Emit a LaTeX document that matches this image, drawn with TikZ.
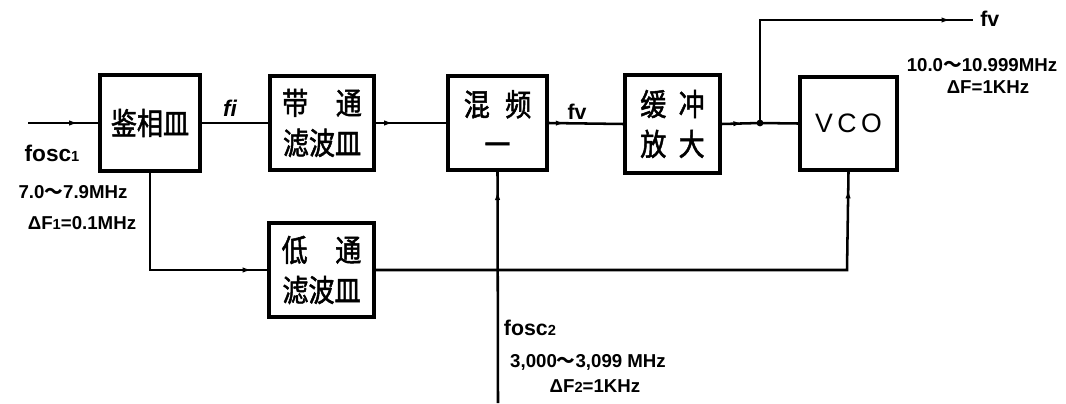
\documentclass[tikz,border=0pt]{standalone}
\usepackage{fontspec}
\setmainfont{Liberation Sans}
\newfontfamily\cjk[FakeBold=1.6,FakeStretch=0.85]{Noto Sans CJK SC}
\newfontfamily\cjkw{Noto Sans CJK SC}
\usetikzlibrary{decorations.markings,arrows.meta}
\newcommand{\smd}[1]{{\fontsize{11}{11}\selectfont #1}}
\newcommand{\wave}{{\cjkw ～}}
\begin{document}
\begin{tikzpicture}[x=0.75pt,y=-0.75pt,
  blk/.style={draw,line width=2.8pt,inner sep=0pt,align=center,
    font=\cjk\fontsize{23}{30}\selectfont},
  wire/.style={line width=1.9pt},
  midarrow/.style={postaction={decorate},decoration={markings,
    mark=at position #1 with {\arrow{Latex[length=7pt,width=4pt]}}}},
  lbl/.style={font=\bfseries\fontsize{14}{16}\selectfont,inner sep=0pt},
  bigl/.style={font=\bfseries\fontsize{16}{18}\selectfont,inner sep=0pt}]
\fill[white] (0,0) rectangle (1066,403);
\path[use as bounding box] (0,0) rectangle (1066,403);
% blocks
\node[blk,minimum width=75pt,minimum height=72pt] (pd) at (150,123) {鉴相皿};
\node[blk,minimum width=78pt,minimum height=71pt] (bp) at (322,123) {带\hspace{0.9em}通\\滤波皿};
\node[blk,minimum width=74pt,minimum height=71pt] (mx) at (497.5,123) {混\hspace{0.5em}频\\一};
\node[blk,minimum width=71pt,minimum height=73pt] (ba) at (672.5,124) {缓\hspace{0.4em}冲\\放\hspace{0.4em}大};
\node[blk,minimum width=73pt,minimum height=70pt,font=\fontsize{20}{24}\selectfont] (vco) at (848.5,123.5) {V\,C\,O};
\node[blk,minimum width=79pt,minimum height=71pt] (lp) at (321.5,270) {低\hspace{0.9em}通\\滤波皿};
% coordinates
\coordinate (in) at (28,123);
\coordinate (j) at (760,123);
\coordinate (out) at (973,20);
\coordinate (o2) at (498,403);
\coordinate (c1) at (847,270);
% connectors
\draw[wire,midarrow=0.72] (in) -- (pd.west);
\draw[wire] (pd.east) -- (bp.west);
\draw[wire,midarrow=0.25] (bp.east) -- (mx.west);
\draw[wire,midarrow=0.22] (mx.east) -- (ba.west);
\draw[wire,midarrow=0.55] (ba.east) -- (j);
\draw[wire] (j) -- (vco.west);
\draw[wire,midarrow=0.93] (j) |- (out);
\fill (j) circle (3.4);
\draw[wire,midarrow=0.93] (pd.south) |- (lp.west);
\draw[wire,midarrow=0.92] (o2) -- (mx.south);
\draw[wire,midarrow=0.97] (lp.east) -- (c1) -- (vco.south);
% labels
\node[bigl,font=\bfseries\itshape\fontsize{17}{18}\selectfont] (lfi) at (230,108) {fi};
\node[bigl] (lfv) at (577,112) {fv};
\node[bigl,anchor=west] (lfvo) at (980,19) {fv};
\node[lbl] (r1) at (982,65) {10.0\wave 10.999MHz};
\node[lbl] (r2) at (988,87) {ΔF=1KHz};
\node[bigl,font=\bfseries\fontsize{17}{18}\selectfont] (f1) at (52,153) {fosc\smd{1}};
\node[lbl] (a1) at (73,192) {7.0\wave 7.9MHz};
\node[lbl] (a2) at (82,223) {ΔF\smd{1}=0.1MHz};
\node[bigl] (f2) at (530,328) {fosc\smd{2}};
\node[lbl] (b1) at (588,362) {3,000\wave 3,099 MHz};
\node[lbl] (b2) at (595,386) {ΔF\smd{2}=1KHz};
\end{tikzpicture}
\end{document}
